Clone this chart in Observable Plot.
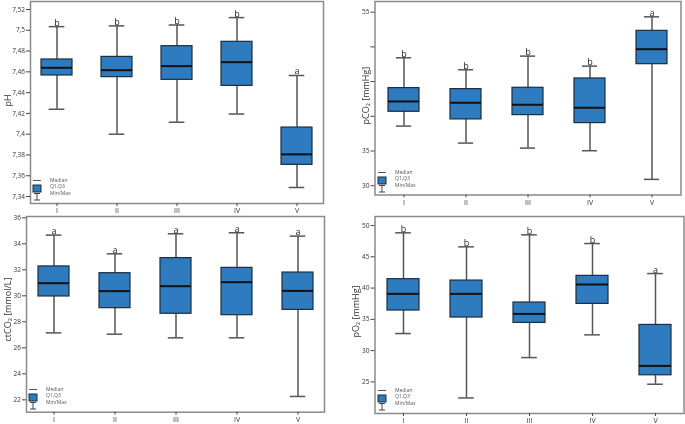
<!DOCTYPE html>
<html><head><meta charset="utf-8">
<script src="https://cdn.jsdelivr.net/npm/d3@7"></script>
<script src="https://cdn.jsdelivr.net/npm/@observablehq/plot@0.6"></script>
<style>
body{margin:0;background:#fff;}
#root{position:relative;width:685px;height:424px;overflow:hidden;font-family:"Open Sans",sans-serif;background:#fff;}
.panel{position:absolute;will-change:transform;}
.legend{position:absolute;overflow:visible;will-change:transform;}
</style></head><body><div id="root"></div>
<script>
const groups = ["I","II","III","IV","V"];

// pH
const phMin = [7.424, 7.400, 7.4115, 7.4194, 7.3487];
const phQ1  = [7.4565, 7.4549, 7.4523, 7.4465, 7.3705];
const phMed = [7.4639, 7.4616, 7.4655, 7.4693, 7.3806];
const phQ3  = [7.4719, 7.4744, 7.4847, 7.4889, 7.4064];
const phMax = [7.5035, 7.5042, 7.5051, 7.5122, 7.4565];
const phLetters = ["b","b","b","b","a"];
const phTicks = [7.34,7.36,7.38,7.40,7.42,7.44,7.46,7.48,7.50,7.52];
const phTickLabels = ["7,34","7,36","7,38","7,4","7,42","7,44","7,46","7,48","7,5","7,52"];

// pCO2
const pco2Min = [38.59, 36.14, 35.42, 35.04, 30.91];
const pco2Q1  = [40.65, 39.55, 40.17, 39.02, 47.51];
const pco2Med = [42.14, 41.95, 41.66, 41.23, 49.67];
const pco2Q3  = [44.06, 43.92, 44.11, 45.45, 52.31];
const pco2Max = [48.43, 46.70, 48.67, 47.23, 54.33];
const pco2Letters = ["b","b","b","b","a"];
const pco2Ticks = [30,35,40,45,50,55];
const pco2TickLabels = ["30","35","","","","55"];

// ctCO2
const ctMin = [27.15, 27.05, 26.77, 26.77, 22.26];
const ctQ1  = [29.95, 29.05, 28.62, 28.51, 28.92];
const ctMed = [30.97, 30.36, 30.74, 31.05, 30.38];
const ctQ3  = [32.26, 31.74, 32.90, 32.15, 31.79];
const ctMax = [34.67, 33.23, 34.77, 34.85, 34.59];
const ctLetters = ["a","a","a","a","a"];
const ctTicks = [22,24,26,28,30,32,34,36];
const ctTickLabels = ["22","24","26","28","30","32","34","36"];

// pO2
const po2Min = [32.73, 22.44, 28.89, 32.52, 24.63];
const po2Q1  = [36.41, 35.29, 34.43, 37.47, 26.06];
const po2Med = [39.07, 39.07, 35.87, 40.57, 27.56];
const po2Q3  = [41.42, 41.20, 37.69, 41.95, 34.11];
const po2Max = [48.83, 46.59, 48.51, 47.12, 42.32];
const po2Letters = ["b","b","b","b","a"];
const po2Ticks = [25,30,35,40,45,50];
const po2TickLabels = ["25","30","35","40","45","50"];

const legendLabels = ["Median","Q1,Q3","Min/Max"];

const BLUE = "#2e7bc0", EDGE = "#1d2d3d", WHISK = "#555", FRAME = "#8a8a8a";

function rowsOf(mn,q1,md,q3,mx,lt){
  return groups.map((g,i)=>({g,min:mn[i],q1:q1[i],med:md[i],q3:q3[i],max:mx[i],letter:lt[i]}));
}

const panels = [
  {left:0, top:0, width:330, height:216, mL:30, mR:7, mT:1, mB:13, dom:[7.3333,7.5277],
   ticks:phTicks, labels:phTickLabels, label:"pH", ldx:-22.5, ldy:-2, pi:0.49, po:0.177,
   rows:rowsOf(phMin,phQ1,phMed,phQ3,phMax,phLetters)},
  {left:340, top:0, width:345, height:210, mL:34.5, mR:4.5, mT:1, mB:15.5, dom:[28.66,56.54],
   ticks:pco2Ticks, labels:pco2TickLabels, label:"pCO₂ [mmHg]", ldx:-8.5, ldy:-2.7, pi:0.496, po:0.18,
   rows:rowsOf(pco2Min,pco2Q1,pco2Med,pco2Q3,pco2Max,pco2Letters)},
  {left:0, top:210, width:330, height:214, mL:26, mR:6, mT:6, mB:12.3, dom:[21.05,36.1],
   ticks:ctTicks, labels:ctTickLabels, label:"ctCO₂ [mmol/L]", ldx:-18.5, ldy:-4.8, pi:0.495, po:0.176,
   rows:rowsOf(ctMin,ctQ1,ctMed,ctQ3,ctMax,ctLetters)},
  {left:340, top:210, width:345, height:214, mL:34.5, mR:1.5, mT:6, mB:11, dom:[19.95,51.44],
   ticks:po2Ticks, labels:po2TickLabels, label:"pO₂ [mmHg]", ldx:-18.5, ldy:-3.5, pi:0.486, po:0.17,
   rows:rowsOf(po2Min,po2Q1,po2Med,po2Q3,po2Max,po2Letters)}
];

const root = document.getElementById("root");

for (const p of panels) {
  const plotW = p.width - p.mL - p.mR;
  const step = plotW / (groups.length - p.pi + 2*p.po);
  const bw = step * (1 - p.pi);
  const capInset = bw/4;
  const chart = Plot.plot({
    width: p.width, height: p.height,
    marginLeft: p.mL, marginRight: p.mR, marginTop: p.mT, marginBottom: p.mB,
    style: {fontFamily:"'Open Sans', sans-serif", fontSize:"6.5px", color:"#333", background:"transparent", overflow:"visible"},
    x: {type:"band", domain: groups, paddingInner: p.pi, paddingOuter: p.po, align:0.5},
    y: {domain: p.dom},
    marks: [
      Plot.frame({stroke: FRAME, strokeWidth: 1.5}),
      Plot.axisX({tickSize:3, tickPadding:2, label:null, fontSize:7, stroke:"#444"}),
      Plot.axisY({ticks: p.ticks, tickSize:4, tickPadding:1.5, tickFormat:(d,i)=>p.labels[i],
        label:null, fontSize:6.5, stroke:"#444"}),
      Plot.text([p.label], {frameAnchor:"left", text:d=>d, rotate:-90, textAnchor:"middle", lineAnchor:"middle",
        dx:p.ldx, dy:p.ldy, fontSize:9, fill:"#333"}),
      Plot.ruleX(p.rows, {x:"g", y1:"q3", y2:"max", stroke:WHISK, strokeWidth:1.5}),
      Plot.ruleX(p.rows, {x:"g", y1:"min", y2:"q1", stroke:WHISK, strokeWidth:1.5}),
      Plot.tickY(p.rows, {x:"g", y:"max", insetLeft:capInset, insetRight:capInset, stroke:WHISK, strokeWidth:1.5}),
      Plot.tickY(p.rows, {x:"g", y:"min", insetLeft:capInset, insetRight:capInset, stroke:WHISK, strokeWidth:1.5}),
      Plot.barY(p.rows, {x:"g", y1:"q1", y2:"q3", fill:BLUE, stroke:EDGE, strokeWidth:1.2}),
      Plot.tickY(p.rows, {x:"g", y:"med", stroke:"#111", strokeWidth:2}),
      Plot.text(p.rows, {x:"g", y:"max", text:"letter", lineAnchor:"bottom", dy:-1, fontSize:9, fill:"#222"})
    ]
  });
  chart.classList.add("panel");
  chart.style.left = p.left + "px";
  chart.style.top = p.top + "px";
  root.appendChild(chart);

  // legend (decoration) at bottom-left of the plot area
  const lx = p.left + p.mL, ly = p.top + p.height - p.mB - 28;
  const ns = "http://www.w3.org/2000/svg";
  const lg = document.createElementNS(ns, "svg");
  lg.setAttribute("width", 60); lg.setAttribute("height", 28);
  lg.setAttribute("class","legend");
  lg.style.left = lx + "px"; lg.style.top = ly + "px";
  lg.innerHTML = `
    <line x1="3" x2="11" y1="5.5" y2="5.5" stroke="#555" stroke-width="1"/>
    <rect x="3" y="10" width="8" height="7" fill="${BLUE}" stroke="${EDGE}" stroke-width="1"/>
    <line x1="7" x2="7" y1="18.5" y2="25" stroke="#444" stroke-width="1"/>
    <line x1="4" x2="10" y1="18.5" y2="18.5" stroke="#444" stroke-width="1"/>
    <line x1="4" x2="10" y1="25" y2="25" stroke="#444" stroke-width="1"/>
    ${legendLabels.map((t,i)=>`<text x="20" y="${[5.5,12,18.5][i]}" dominant-baseline="middle" font-size="5" fill="#555" font-family="Open Sans, sans-serif">${t}</text>`).join("")}
  `;
  root.appendChild(lg);
}
</script></body></html>
